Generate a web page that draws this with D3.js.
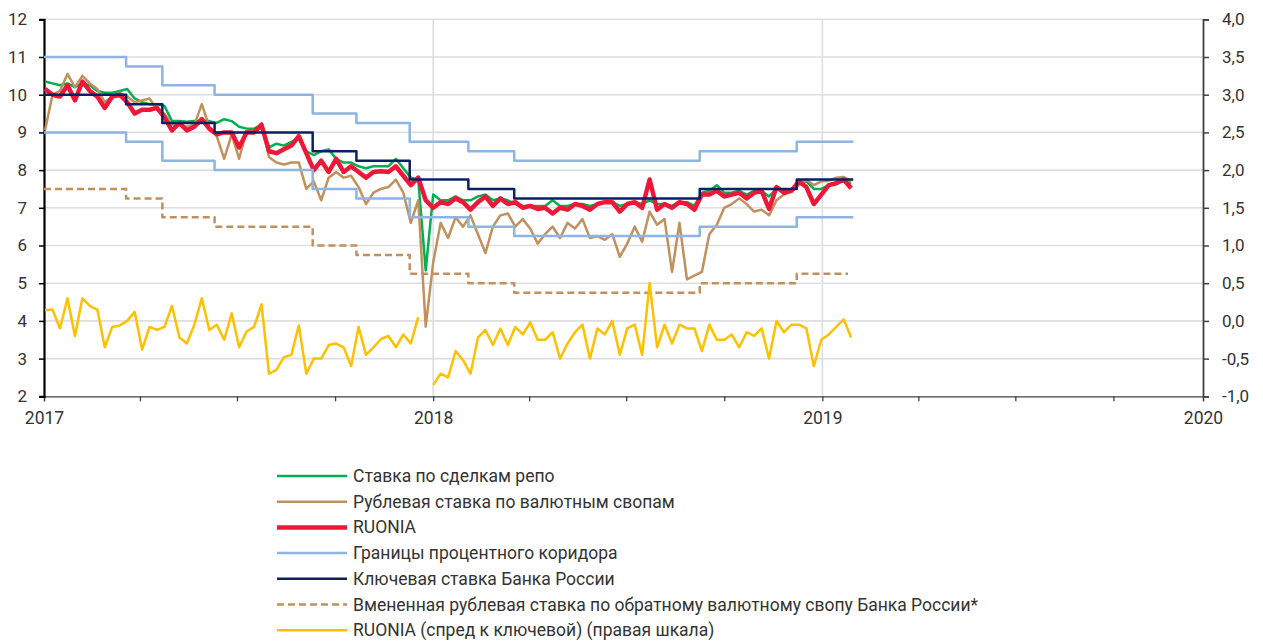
<!DOCTYPE html>
<html>
<head>
<meta charset="utf-8">
<script src="https://cdn.jsdelivr.net/npm/d3@7"></script>
<style>
  body { margin: 0; background: #fff; }
  text { font-family: Roboto, "Noto Sans", sans-serif; fill: #333; }
  .grid line { stroke: #dedede; stroke-width: 1.6; }
</style>
</head>
<body>
<div id="chart"></div>
<script>
// Недельные точки (понедельники)
const weekDates = d3.timeMonday.range(new Date(2017, 0, 2), new Date(2019, 0, 29));

// Ставка по сделкам репо
const repoRate = [
  10.35, 10.3, 10.25, 10.3, 10.2, 10.3, 10.25, 10.1, 10.05, 10.05,
  10.1, 10.15, 9.9, 9.8, 9.75, 9.75, 9.7, 9.3, 9.3, 9.28,
  9.3, 9.3, 9.3, 9.25, 9.35, 9.3, 9.15, 9.1, 9.1, 9.2,
  8.6, 8.7, 8.65, 8.75, 8.85, 8.5, 8.4, 8.5, 8.55, 8.3,
  8.2, 8.2, 8.1, 8.05, 8.1, 8.1, 8.1, 8.3, 8.05, 7.8,
  7.75, 5.34, 7.35, 7.2, 7.2, 7.3, 7.2, 7.2, 7.3, 7.35,
  7.2, 7.25, 7.2, 7.1, 7.05, 7.05, 7.05, 7.05, 7.2, 7.05,
  7.05, 7.1, 7.1, 7.05, 7.1, 7.15, 7.15, 7.05, 7.1, 7.15,
  7.1, 7.2, 7.1, 7.1, 7.05, 7.15, 7.15, 7.05, 7.4, 7.45,
  7.6, 7.4, 7.4, 7.45, 7.35, 7.45, 7.45, 7.3, 7.5, 7.45,
  7.5, 7.7, 7.7, 7.5, 7.5, 7.6, 7.65, 7.7, 7.65
];

// Рублевая ставка по валютным свопам
const swapRate = [
  9.06, 10.0, 10.1, 10.55, 10.2, 10.5, 10.3, 10.15, 9.8, 9.95,
  10.05, 9.95, 9.8, 9.85, 9.9, 9.6, 9.5, 9.2, 9.2, 9.15,
  9.2, 9.75, 9.15, 8.9, 8.3, 8.95, 8.3, 9.05, 9.0, 9.25,
  8.35, 8.2, 8.15, 8.2, 8.2, 7.5, 7.7, 7.2, 7.8, 7.95,
  7.8, 7.85, 7.55, 7.1, 7.4, 7.5, 7.55, 7.75, 7.4, 6.6,
  7.2, 3.85, 5.55, 6.6, 6.2, 6.75, 6.5, 6.8, 6.3, 5.8,
  6.5, 6.8, 6.85, 6.5, 6.7, 6.45, 6.05, 6.3, 6.5, 6.2,
  6.6, 6.45, 6.7, 6.2, 6.25, 6.15, 6.3, 5.7, 6.05, 6.5,
  6.1, 6.9, 6.55, 6.7, 5.3, 6.6, 5.1, 5.2, 5.3, 6.3,
  6.55, 7.0, 7.1, 7.25, 7.1, 6.9, 6.95, 6.8, 7.2, 7.35,
  7.45, 7.6, 7.75, 7.6, 7.7, 7.72, 7.8, 7.82, 7.7
];

// RUONIA
const ruonia = [
  10.15, 10.0, 9.95, 10.25, 9.85, 10.35, 10.1, 9.95, 9.65, 9.95,
  10.0, 9.8, 9.5, 9.6, 9.6, 9.65, 9.4, 9.05, 9.25, 9.05,
  9.15, 9.35, 9.1, 8.95, 9.0, 9.0, 8.6, 9.0, 9.0, 9.2,
  8.5, 8.45, 8.55, 8.65, 8.9, 8.45, 8.0, 8.25, 7.95, 8.3,
  7.95, 8.1, 7.95, 7.8, 7.95, 7.97, 7.95, 8.1, 7.85, 7.6,
  7.8, 7.2, 7.0, 7.15, 7.1, 7.25, 7.15, 6.95, 7.15, 7.3,
  7.05, 7.25, 7.1, 7.15, 7.0, 7.05, 6.97, 7.0, 6.85, 7.0,
  6.95, 7.1, 7.05, 6.95, 7.1, 7.15, 7.15, 6.9, 7.1, 7.15,
  7.0, 7.75, 6.95, 7.1, 7.0, 7.15, 7.1, 6.95, 7.35, 7.35,
  7.45, 7.3, 7.35, 7.4, 7.25, 7.4, 7.45, 6.97, 7.55, 7.4,
  7.45, 7.7, 7.55, 7.1, 7.35, 7.6, 7.65, 7.75, 7.52
];

// RUONIA, спред к ключевой (правая шкала)
const ruoniaSpread = [
  0.14, 0.15, -0.1, 0.3, -0.2, 0.3, 0.2, 0.15, -0.35, -0.08,
  -0.06, 0.0, 0.12, -0.38, -0.08, -0.12, -0.08, 0.2, -0.22, -0.3,
  -0.05, 0.3, -0.12, -0.05, -0.25, 0.1, -0.35, -0.14, -0.08, 0.22,
  -0.7, -0.65, -0.48, -0.45, -0.06, -0.7, -0.5, -0.5, -0.32, -0.3,
  -0.35, -0.6, -0.08, -0.45, -0.35, -0.24, -0.2, -0.35, -0.18, -0.3,
  0.05, null, -0.85, -0.7, -0.75, -0.4, -0.52, -0.7, -0.22, -0.12,
  -0.32, -0.1, -0.32, -0.08, -0.18, -0.02, -0.25, -0.25, -0.15, -0.5,
  -0.3, -0.15, -0.05, -0.5, -0.1, -0.18, 0.0, -0.45, -0.1, -0.05,
  -0.45, 0.5, -0.35, -0.05, -0.3, -0.05, -0.1, -0.1, -0.4, -0.05,
  -0.25, -0.25, -0.18, -0.35, -0.15, -0.2, -0.1, -0.5, 0.0, -0.15,
  -0.05, -0.05, -0.1, -0.6, -0.25, -0.18, -0.08, 0.02, -0.22
];

// Ступенчатые ряды: даты изменений
const stepDates = ["2017-01-01", "2017-03-19", "2017-04-22", "2017-06-10", "2017-09-10", "2017-10-21",
  "2017-12-10", "2018-02-03", "2018-03-18", "2018-09-08", "2018-12-08", "2019-01-30"];
const keyRate =       [10, 9.75, 9.25, 9.0, 8.5, 8.25, 7.75, 7.5, 7.25, 7.5, 7.75, 7.75];
const corridorUpper = [11, 10.75, 10.25, 10.0, 9.5, 9.25, 8.75, 8.5, 8.25, 8.5, 8.75, 8.75];
const corridorLower = [9, 8.75, 8.25, 8.0, 7.5, 7.25, 6.75, 6.5, 6.25, 6.5, 6.75, 6.75];
const impliedDates = ["2017-01-01", "2017-03-19", "2017-04-22", "2017-06-10", "2017-09-10", "2017-10-21",
  "2017-12-10", "2018-02-03", "2018-03-18", "2018-09-08", "2018-12-08", "2019-01-25"];
const impliedSwap =   [7.5, 7.25, 6.75, 6.5, 6.0, 5.75, 5.25, 5.0, 4.75, 5.0, 5.25, 5.25];

const leftTicks = [2, 3, 4, 5, 6, 7, 8, 9, 10, 11, 12];
const rightTicks = [-1, -0.5, 0, 0.5, 1, 1.5, 2, 2.5, 3, 3.5, 4];
const yearLabels = ["2017", "2018", "2019", "2020"];

const legendItems = [
  { name: "Ставка по сделкам репо", color: "#00b050", width: 2.5 },
  { name: "Рублевая ставка по валютным свопам", color: "#c0915c", width: 2.5 },
  { name: "RUONIA", color: "#ef1738", width: 4.5 },
  { name: "Границы процентного коридора", color: "#8db4e2", width: 2.5 },
  { name: "Ключевая ставка Банка России", color: "#0b2160", width: 2.5 },
  { name: "Вмененная рублевая ставка по обратному валютному свопу Банка России*", color: "#c0915c", width: 2.5, dash: "7,4" },
  { name: "RUONIA (спред к ключевой) (правая шкала)", color: "#ffc000", width: 2.5 }
];

function drawChart() {
    const width = 1263, height = 643;
    const left = 44, right = 1203, top = 19.3, bottom = 396.3;

    const svg = d3.select("#chart").append("svg")
        .attr("width", width)
        .attr("height", height);

    const parse = d3.timeParse("%Y-%m-%d");
    const axisEnd = new Date(2019, 11, 24);

    const x = d3.scaleTime()
        .domain([new Date(2017, 0, 1), axisEnd])
        .range([left, right]);
    const y = d3.scaleLinear().domain([2, 12]).range([bottom, top]);
    const y2 = d3.scaleLinear().domain([-1, 4]).range([bottom, top]);

    // сетка
    const grid = svg.append("g").attr("class", "grid");
    grid.selectAll(".h").data(leftTicks.slice(1)).enter().append("line")
        .attr("x1", left).attr("x2", right)
        .attr("y1", d => y(d)).attr("y2", d => y(d));
    const yearDates = [new Date(2018, 0, 1), new Date(2019, 0, 1)];
    grid.selectAll(".v").data(yearDates).enter().append("line")
        .attr("x1", d => x(d)).attr("x2", d => x(d))
        .attr("y1", top).attr("y2", bottom);

    // ось X
    const quarterTicks = d3.timeMonth.every(3).range(new Date(2017, 0, 1), new Date(2019, 11, 1));
    quarterTicks.push(axisEnd);
    const xAxis = d3.axisBottom(x)
        .tickValues(quarterTicks)
        .tickSize(5)
        .tickFormat(d => {
            if (d === axisEnd) return yearLabels[3];
            return d.getMonth() === 0 ? String(d.getFullYear()) : "";
        });
    const gx = svg.append("g").attr("transform", `translate(0,${bottom})`).call(xAxis);
    gx.select(".domain").attr("stroke", "#404040").attr("stroke-width", 1.3);
    gx.selectAll(".tick line").attr("stroke", "#404040").attr("stroke-width", 1.3);
    gx.selectAll(".tick text").attr("font-size", 17.5).attr("dy", 20).attr("fill", "#333");

    // левая ось
    const yAxis = d3.axisLeft(y).tickValues(leftTicks).tickSize(5).tickPadding(12);
    const gy = svg.append("g").attr("transform", `translate(${left},0)`).call(yAxis);
    gy.select(".domain").attr("stroke", "#000").attr("stroke-width", 2.2);
    gy.selectAll(".tick line").attr("stroke", "#000").attr("stroke-width", 1.5);
    gy.selectAll(".tick text").attr("font-size", 17).attr("fill", "#333");

    // правая ось
    const fmt = d3.format(".1f");
    const y2Axis = d3.axisRight(y2).tickValues(rightTicks).tickSize(6).tickPadding(13)
        .tickFormat(d => fmt(d).replace(".", ",").replace("−", "-"));
    const gy2 = svg.append("g").attr("transform", `translate(${right},0)`).call(y2Axis);
    gy2.select(".domain").attr("stroke", "#404040").attr("stroke-width", 1.8);
    gy2.selectAll(".tick line").attr("stroke", "#404040").attr("stroke-width", 1.5);
    gy2.selectAll(".tick text").attr("font-size", 17).attr("fill", "#333");

    // линии
    const weekly = (vals, scale) => d3.line()
        .defined((d, i) => vals[i] != null)
        .x((d, i) => x(weekDates[i]))
        .y((d, i) => scale(vals[i]))(weekDates);
    const stepped = (dates, vals) => d3.line()
        .curve(d3.curveStepAfter)
        .x((d, i) => x(parse(dates[i])))
        .y((d, i) => y(vals[i]))(dates);

    const series = [
        { path: weekly(repoRate, y), item: legendItems[0] },
        { path: weekly(swapRate, y), item: legendItems[1] },
        { path: weekly(ruonia, y), item: legendItems[2] },
        { path: stepped(stepDates, corridorUpper), item: legendItems[3] },
        { path: stepped(stepDates, corridorLower), item: legendItems[3] },
        { path: stepped(stepDates, keyRate), item: legendItems[4] },
        { path: stepped(impliedDates, impliedSwap), item: legendItems[5] },
        { path: weekly(ruoniaSpread, y2), item: legendItems[6] }
    ];

    svg.append("g").selectAll("path")
        .data(series)
        .enter().append("path")
        .attr("d", d => d.path)
        .attr("fill", "none")
        .attr("stroke", d => d.item.color)
        .attr("stroke-width", d => d.item.width)
        .attr("stroke-dasharray", d => d.item.dash || null)
        .attr("stroke-linejoin", "round");

    // легенда
    const legend = svg.append("g").attr("transform", "translate(277,476)");
    const row = legend.selectAll("g")
        .data(legendItems)
        .enter().append("g")
        .attr("transform", (d, i) => `translate(0,${i * 25.7})`);
    row.append("line")
        .attr("x1", 0).attr("x2", 70)
        .attr("stroke", d => d.color)
        .attr("stroke-width", d => d.width)
        .attr("stroke-dasharray", d => d.dash || null);
    row.append("text")
        .attr("x", 76).attr("y", 6)
        .attr("font-size", 17.5)
        .text(d => d.name);
}

document.addEventListener('DOMContentLoaded', drawChart);
</script>
</body>
</html>
